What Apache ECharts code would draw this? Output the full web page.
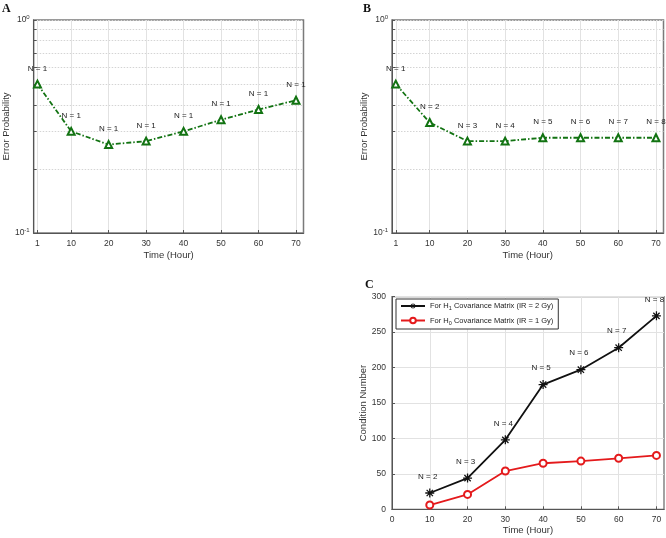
<!DOCTYPE html>
<html>
<head>
<meta charset="utf-8">
<script src="https://cdn.jsdelivr.net/npm/echarts@6/dist/echarts.min.js"></script>
<style>html,body{margin:0;padding:0;background:#fff;}#c{width:666px;height:538px;}</style>
</head>
<body>
<div id="c"></div>
<script>
// ---- data ----
const timeAB = [1, 10, 20, 30, 40, 50, 60, 70];
const xTicksAB = [1, 10, 20, 30, 40, 50, 60, 70];
const errA = [0.50, 0.30, 0.26, 0.27, 0.30, 0.34, 0.38, 0.42];
const labelsA = ['N = 1', 'N = 1', 'N = 1', 'N = 1', 'N = 1', 'N = 1', 'N = 1', 'N = 1'];
const errB = [0.50, 0.33, 0.27, 0.27, 0.28, 0.28, 0.28, 0.28];
const labelsB = ['N = 1', 'N = 2', 'N = 3', 'N = 4', 'N = 5', 'N = 6', 'N = 7', 'N = 8'];
const yTicksLog = [0.1, 0.2, 0.3, 0.4, 0.5, 0.6, 0.7, 0.8, 0.9, 1];
const yLabelsLog = [0.1, 1];
const timeC = [10, 20, 30, 40, 50, 60, 70];
const xTicksC = [0, 10, 20, 30, 40, 50, 60, 70];
const condH1 = [23, 44, 98, 176, 197, 228, 273];
const condH0 = [6, 21, 54, 65, 68, 72, 76];
const labelsC = ['N = 2', 'N = 3', 'N = 4', 'N = 5', 'N = 6', 'N = 7', 'N = 8'];
const nameH1 = 'For H1 Covariance Matrix (IR = 2 Gy)';
const nameH0 = 'For H0 Covariance Matrix (IR = 1 Gy)';

// ---- styling ----
const FONT = 'Liberation Sans, Arial, sans-serif';
const GREEN = '#127312';
const TICKFS = 8.5, NAMEFS = 9.5;
const asterisk = 'path://M-0.7,-5L0.7,-5L0.7,5L-0.7,5Z M-5,-0.7L5,-0.7L5,0.7L-5,0.7Z M-4,-3L-3,-4L4,3L3,4Z M3,-4L4,-3L-3,4L-4,3Z';

function logAxis(gi) {
  return {
    type: 'log', logBase: 10, gridIndex: gi, min: 0.1, max: 1,
    name: 'Error Probability', nameLocation: 'middle', nameGap: 17,
    nameTextStyle: { fontFamily: FONT, fontSize: NAMEFS, color: '#333' },
    axisLine: { show: true, lineStyle: { color: '#555', width: 1 } },
    axisTick: { show: true, inside: true, length: 3, customValues: yTicksLog, lineStyle: { color: '#555' } },
    axisLabel: {
      customValues: yLabelsLog, margin: 4, fontFamily: FONT, fontSize: TICKFS, color: '#333',
      formatter: function (v) { return '{b|10}{s|' + Math.round(Math.log10(v)) + '}'; },
      rich: { b: { fontSize: TICKFS, fontFamily: FONT, color: '#333' }, s: { fontSize: 6, fontFamily: FONT, color: '#333', verticalAlign: 'top', padding: [0, 0, 5, 0] } }
    },
    splitLine: { show: true, lineStyle: { color: '#d4d4d4', type: [1.5, 1.5], width: 1 } }
  };
}
function timeAxisAB(gi) {
  return {
    type: 'value', gridIndex: gi, min: 0, max: 72,
    name: 'Time (Hour)', nameLocation: 'middle', nameGap: 17,
    nameTextStyle: { fontFamily: FONT, fontSize: NAMEFS, color: '#333' },
    axisLine: { show: true, lineStyle: { color: '#555', width: 1 } },
    axisTick: { show: true, inside: true, length: 3, customValues: xTicksAB, lineStyle: { color: '#555' } },
    axisLabel: { customValues: xTicksAB, margin: 6, fontFamily: FONT, fontSize: TICKFS, color: '#333' },
    splitLine: { show: true, lineStyle: { color: '#e2e2e2', width: 1 } }
  };
}
function errSeries(name, gi, ys, labels) {
  return {
    name: name, type: 'line', xAxisIndex: gi, yAxisIndex: gi,
    data: timeAB.map((t, i) => [t, ys[i]]),
    symbol: 'emptyTriangle', symbolSize: 7,
    lineStyle: { color: GREEN, width: 1.8, type: [5, 2, 1.5, 2] },
    itemStyle: { color: GREEN, borderWidth: 1.5 },
    label: { show: true, position: 'top', distance: 7, fontFamily: FONT, fontSize: 8, color: '#222',
      formatter: p => labels[p.dataIndex] },
    silent: true, animation: false
  };
}
const titleStyle = { fontFamily: 'Liberation Serif, serif', fontWeight: 'bold', fontSize: 12, color: '#111' };

const chart = echarts.init(document.getElementById('c'), null, { renderer: 'canvas' });
chart.setOption({
  backgroundColor: '#fff',
  animation: false,
  title: [
    { text: 'A', left: 2, top: 3, padding: 0, textStyle: titleStyle },
    { text: 'B', left: 363, top: 3, padding: 0, textStyle: titleStyle },
    { text: 'C', left: 365, top: 279, padding: 0, textStyle: titleStyle }
  ],
  grid: [
    { left: 32, top: 20, width: 271.5, height: 213, show: true, borderColor: '#7a7a7a', borderWidth: 1.5 },
    { left: 392, top: 20, width: 271.5, height: 213, show: true, borderColor: '#7a7a7a', borderWidth: 1.5 },
    { left: 392, top: 296.7, width: 272, height: 212.6, show: true, borderColor: '#666', borderWidth: 1.2 }
  ],
  xAxis: [
    timeAxisAB(0), timeAxisAB(1),
    {
      type: 'value', gridIndex: 2, min: 0, max: 72,
      name: 'Time (Hour)', nameLocation: 'middle', nameGap: 16,
      nameTextStyle: { fontFamily: FONT, fontSize: NAMEFS, color: '#333' },
      axisLine: { show: true, lineStyle: { color: '#555', width: 1 } },
      axisTick: { show: true, inside: true, length: 3, customValues: xTicksC, lineStyle: { color: '#555' } },
      axisLabel: { customValues: xTicksC, margin: 6, fontFamily: FONT, fontSize: TICKFS, color: '#333' },
      splitLine: { show: true, lineStyle: { color: '#e2e2e2', width: 1 } }
    }
  ],
  yAxis: [
    logAxis(0), logAxis(1),
    {
      type: 'value', gridIndex: 2, min: 0, max: 300, interval: 50,
      name: 'Condition Number', nameLocation: 'middle', nameGap: 17,
      nameTextStyle: { fontFamily: FONT, fontSize: NAMEFS, color: '#333' },
      axisLine: { show: true, lineStyle: { color: '#555', width: 1 } },
      axisTick: { show: true, inside: true, length: 3, lineStyle: { color: '#555' } },
      axisLabel: { margin: 6, fontFamily: FONT, fontSize: TICKFS, color: '#333' },
      splitLine: { show: true, lineStyle: { color: '#e2e2e2', width: 1 } }
    }
  ],
  legend: {
    data: [nameH1, nameH0], orient: 'vertical', left: 396, top: 299,
    padding: [3, 5, 3, 4], itemGap: 5, itemWidth: 24, itemHeight: 7,
    borderColor: '#333', borderWidth: 1, backgroundColor: '#fff',
    textStyle: { fontFamily: FONT, fontSize: 7.5, color: '#222',
      rich: { n: { fontFamily: FONT, fontSize: 7.5, color: '#222' }, sub: { fontFamily: FONT, fontSize: 5.5, color: '#222', verticalAlign: 'bottom', padding: [5, 0, 0, 0] } } },
    formatter: function (name) {
      const m = name.match(/^For H(\d)(.*)$/);
      return '{n|For H}{sub|' + m[1] + '}{n|' + m[2] + '}';
    },
    selectedMode: false
  },
  series: [
    errSeries('A', 0, errA, labelsA),
    errSeries('B', 1, errB, labelsB),
    {
      name: nameH1, type: 'line', xAxisIndex: 2, yAxisIndex: 2,
      data: timeC.map((t, i) => [t, condH1[i]]),
      symbol: asterisk, symbolSize: 9,
      lineStyle: { color: '#111', width: 1.8 },
      itemStyle: { color: '#111' },
      label: { show: true, position: 'top', distance: 8, offset: [-2, 0], fontFamily: FONT, fontSize: 8, color: '#222',
        formatter: p => labelsC[p.dataIndex] },
      silent: true, z: 3
    },
    {
      name: nameH0, type: 'line', xAxisIndex: 2, yAxisIndex: 2,
      data: timeC.map((t, i) => [t, condH0[i]]),
      symbol: 'emptyCircle', symbolSize: 7,
      lineStyle: { color: '#e41a1c', width: 1.8 },
      itemStyle: { color: '#e41a1c', borderWidth: 1.3 },
      silent: true, z: 2
    }
  ]
});
</script>
</body>
</html>
